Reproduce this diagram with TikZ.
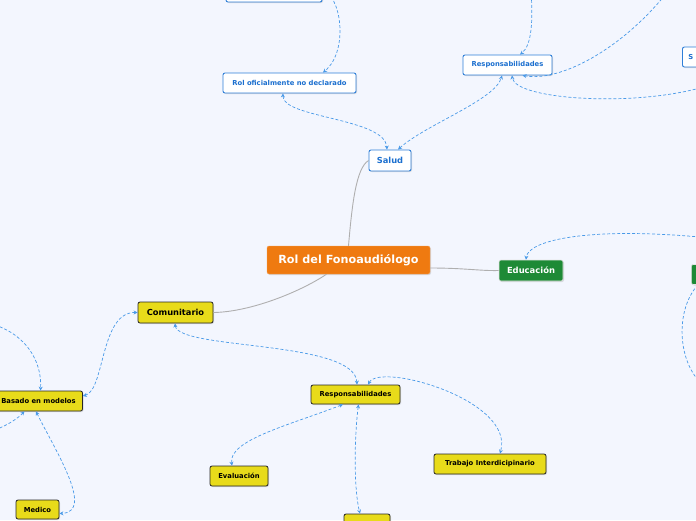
\documentclass[tikz,border=0pt]{standalone}
\usepackage{fontspec}
\setmainfont{DejaVu Sans}
\usetikzlibrary{arrows.meta,shadows,calc}
\definecolor{bg}{HTML}{F3F6FE}
\definecolor{bluebd}{HTML}{2F7FD8}
\definecolor{bluetx}{HTML}{1B6FCF}
\definecolor{greenf}{HTML}{1E8A36}
\definecolor{orangef}{HTML}{EF7A10}
\definecolor{yellowf}{HTML}{E8DB1A}
\definecolor{dashc}{HTML}{4A9AE8}
\definecolor{grayc}{HTML}{AFAFAF}
\tikzset{
  box/.style={rounded corners=2pt, inner sep=0pt, font=\bfseries,
    drop shadow={opacity=0.25, shadow xshift=1pt, shadow yshift=-1pt}},
  rootbox/.style={box, fill=orangef, draw=orangef!70!white, text=white, font=\bfseries\fontsize{11.2}{13}\selectfont},
  bluebox/.style={box, fill=white, draw=bluebd, line width=0.9pt, text=bluetx},
  greenbox/.style={box, fill=greenf, draw=white!80!gray, line width=0.6pt, text=white, font=\bfseries\fontsize{8.4}{10}\selectfont},
  yelbox/.style={box, fill=yellowf, draw=black!85, line width=0.8pt, text=black},
  big/.style={font=\bfseries\fontsize{8.3}{10}\selectfont},
  small/.style={font=\bfseries\fontsize{6.8}{8}\selectfont},
  mainlink/.style={draw=grayc, line width=0.9pt},
  rel/.style={draw=dashc, line width=0.7pt, dash pattern=on 3pt off 2pt},
  tip/.tip={Stealth[length=4pt,width=4pt]},
}
\begin{document}
\begin{tikzpicture}[x=1pt,y=-1pt]
\useasboundingbox (0,0) rectangle (696,520);
\fill[bg] (0,0) rectangle (696,520);
\clip (0,0) rectangle (696,520);

% nodes
\node[rootbox, minimum width=163pt, minimum height=28pt] (root) at (348.5,260) {Rol del Fonoaudiólogo};

\node[bluebox, big, minimum width=42pt, minimum height=21pt] (salud) at (390,160.5) {Salud};
\node[bluebox, small, minimum width=133pt, minimum height=20pt] (rolofi) at (289.5,83) {Rol oficialmente no declarado};
\node[bluebox, small, minimum width=89pt, minimum height=20pt] (resptop) at (507.5,65) {Responsabilidades};
\node[bluebox, small, minimum width=96pt, minimum height=20pt] (topbox) at (274,-8) {};
\node[bluebox, small, minimum width=60pt, minimum height=20pt, anchor=west, align=left, text width=50pt, inner xsep=6pt] (sbox) at (682,57) {S};

\node[greenbox, minimum width=64pt, minimum height=21pt] (educ) at (531,270.5) {Educación};
\node[greenbox, minimum width=40pt, minimum height=20pt, anchor=west] (greenr) at (691,274.5) {};

\node[yelbox, big, minimum width=75pt, minimum height=21pt] (comun) at (175.5,312.5) {Comunitario};
\node[yelbox, small, minimum width=88pt, minimum height=20pt] (basado) at (38.5,401) {Basado en modelos};
\node[yelbox, small, minimum width=43pt, minimum height=19pt] (medico) at (37.5,509.5) {Medico};
\node[yelbox, small, minimum width=89pt, minimum height=19pt] (respbot) at (355.5,394.5) {Responsabilidades};
\node[yelbox, small, minimum width=58pt, minimum height=20pt] (evalu) at (239,476) {Evaluación};
\node[yelbox, small, minimum width=112pt, minimum height=20pt] (trabajo) at (490,464) {Trabajo Interdicipinario};
\node[yelbox, small, minimum width=46pt, minimum height=20pt] (botbox) at (367,524) {};

% free ends
\coordinate (f1) at (531,-10);
\coordinate (f2) at (665,-5);
\coordinate (f3) at (710,85);
\coordinate (f4) at (710,238);
\coordinate (f5) at (700,382);
\coordinate (f6) at (-5,325);
\coordinate (f7) at (-5,430);

% main links
\path[mainlink] (root.north) .. controls (352,205) and (356,168) .. (salud.west);
\path[mainlink] ([yshift=-8pt]root.east) .. controls (465,268) and (480,271) .. (educ.west);
\path[mainlink] ([xshift=-22pt]root.south) .. controls (300,292) and (250,312) .. (comun.east);

% relations
\path[rel, tip-tip] ([xshift=-6.5pt]rolofi.south) .. controls (282,118) and (385,118) .. ([xshift=-3pt]salud.north);
\path[rel, tip-tip] ([xshift=8pt]salud.north) .. controls (425,125) and (495,100) .. ([xshift=-5.5pt]resptop.south);
\path[rel, -tip] (topbox.east) .. controls (340,-8) and (350,50) .. ([xshift=33.5pt]rolofi.north);
\path[rel, -tip] (f1) .. controls (533,20) and (532,45) .. ([xshift=12.5pt]resptop.north);
\path[rel, -tip] (f2) .. controls (620,50) and (560,82) .. ([xshift=15pt]resptop.south);
\path[rel, -tip] (f3) .. controls (640,108) and (515,100) .. ([xshift=4.5pt]resptop.south);
\path[rel, -tip] (f4) .. controls (590,226) and (528,240) .. ([xshift=-5pt]educ.north);
\path[rel] ([xshift=7pt]greenr.south west) .. controls (675,310) and (678,360) .. (f5);

\path[rel, tip-tip] (comun.west) .. controls (100,312) and (105,390) .. ([yshift=5pt]basado.east);
\path[rel, tip-tip] ([xshift=-0.5pt]comun.south) .. controls (178,350) and (355,340) .. ([xshift=1.5pt]respbot.north);
\path[rel, -tip] (f6) .. controls (25,335) and (42,360) .. ([xshift=2pt]basado.north);
\path[rel, -tip] (f7) .. controls (10,424) and (18,418) .. ([xshift=-14pt]basado.south);
\path[rel, tip-tip] ([xshift=-2.5pt]basado.south) .. controls (55,450) and (95,512) .. ([yshift=-4pt]medico.east);
\path[rel, tip-tip] ([xshift=12.5pt]respbot.north) .. controls (380,362) and (515,400) .. ([xshift=10pt]trabajo.north);
\path[rel, tip-tip] ([xshift=-12.5pt]respbot.south) .. controls (290,425) and (228,440) .. ([xshift=-7pt]evalu.north);
\path[rel, tip-tip] ([xshift=3pt]respbot.south) .. controls (354,440) and (354,490) .. ([xshift=-7pt]botbox.north);
\end{tikzpicture}
\end{document}
